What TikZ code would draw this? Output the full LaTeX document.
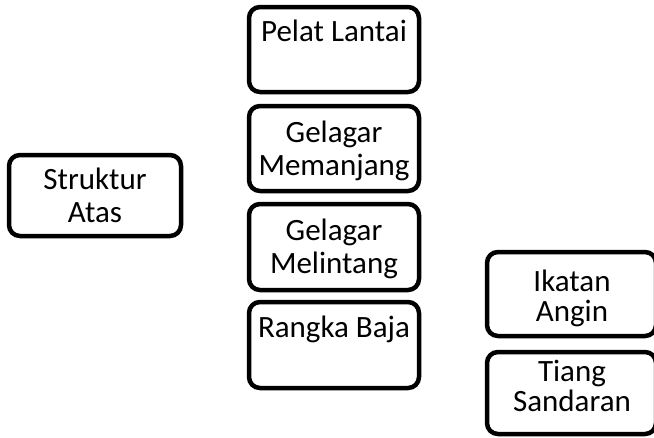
\documentclass[tikz,border=0pt]{standalone}
\usepackage{fontspec}
\setmainfont{Carlito}
\begin{document}
\begin{tikzpicture}[x=1pt,y=-1pt,
  box/.style={draw=black, line width=4.5pt, rounded corners=11pt, fill=white},
  lbl/.style={anchor=base, align=center, inner sep=0pt, font=\fontsize{31}{33}\selectfont},
  lblb/.style={anchor=base, align=center, inner sep=0pt, font=\fontsize{31}{30}\selectfont}]
\useasboundingbox (0,0) rectangle (654,437);
% boxes
\draw[box] (9,155) rectangle (181,236);
\draw[box] (249,7) rectangle (419,92);
\draw[box] (249,106) rectangle (419,191);
\draw[box] (249,204) rectangle (419,290);
\draw[box] (249,302) rectangle (419,388);
\draw[box] (487,252) rectangle (656,336);
\draw[box] (487,352) rectangle (656,434);
% labels (anchor = baseline of the last line)
\node[lbl] (sa) at (95,222) {Struktur\\Atas};
\node[lbl] (pl) at (334,41.7) {Pelat Lantai};
\node[lbl] (gm) at (334,175) {Gelagar\\Memanjang};
\node[lbl] (gl) at (334,273) {Gelagar\\Melintang};
\node[lbl] (rb) at (334,337) {Rangka Baja};
\node[lblb] (ia) at (572,321) {Ikatan\\Angin};
\node[lblb] (ts) at (572,411.7) {Tiang\\Sandaran};
\end{tikzpicture}
\end{document}
